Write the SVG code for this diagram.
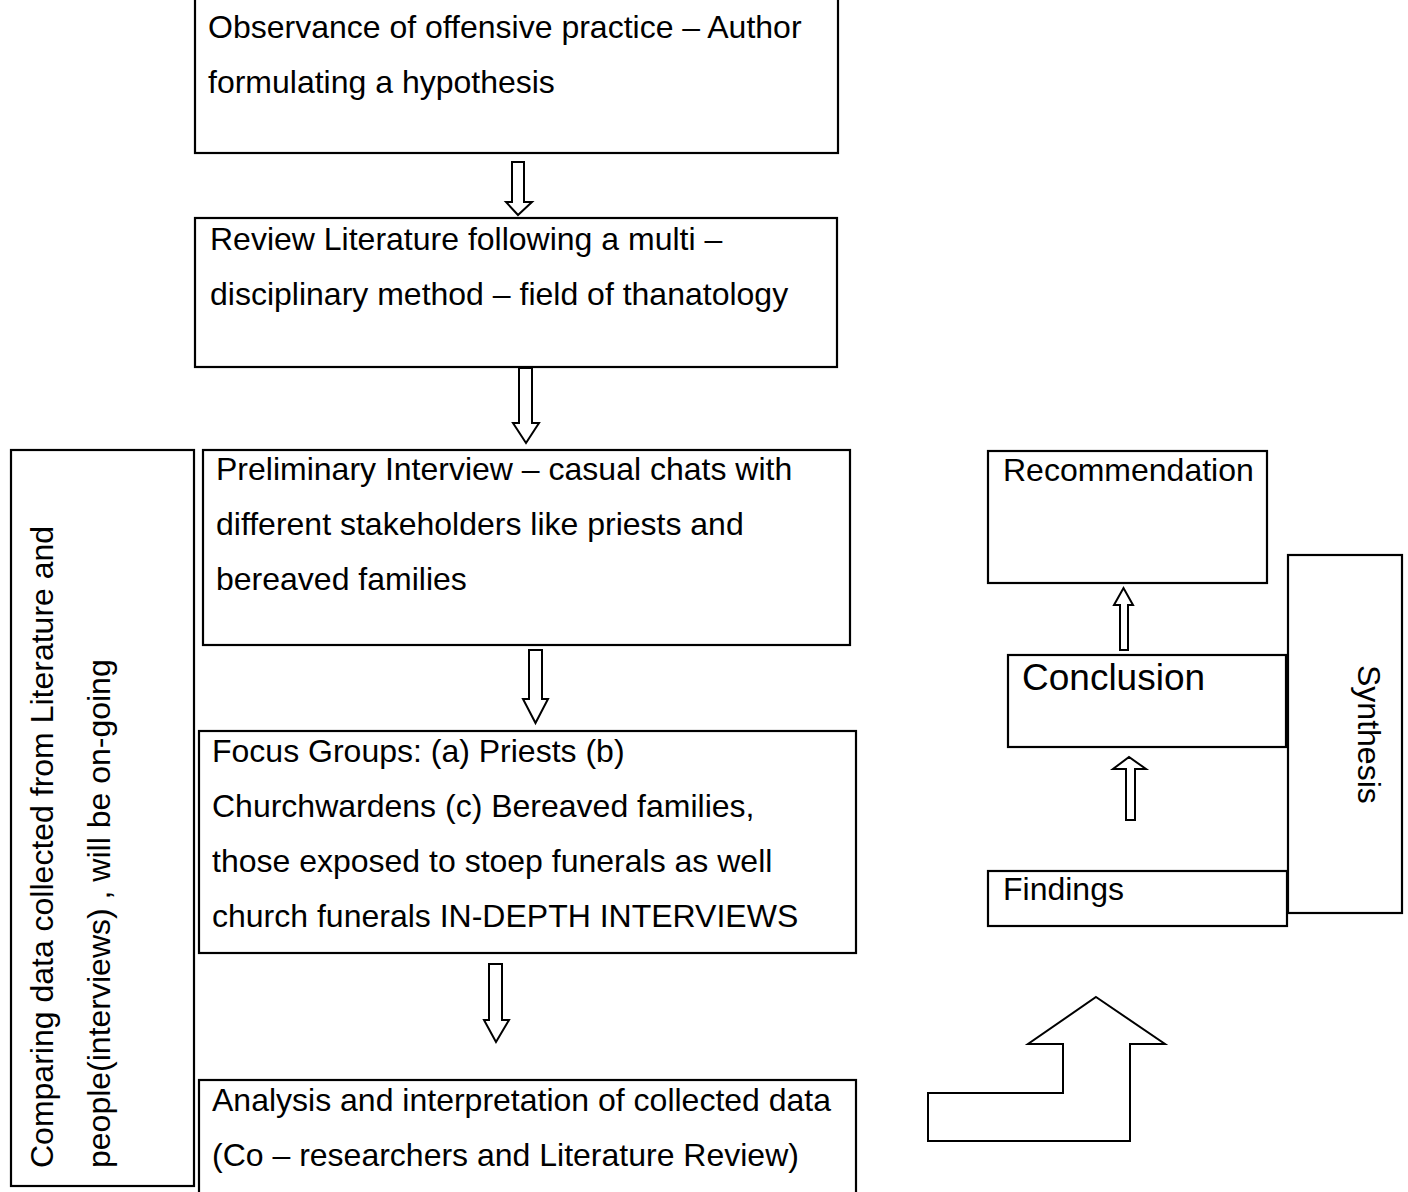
<svg xmlns="http://www.w3.org/2000/svg" width="1408" height="1192" viewBox="0 0 1408 1192">
<style>
.box{fill:#fff;stroke:#000;stroke-width:2.2}
.arr{fill:#fff;stroke:#000;stroke-width:2;stroke-linejoin:miter}
text{font-family:"Liberation Sans",Arial,sans-serif;font-size:32px;fill:#000}
.big{font-size:37px}
</style>
<rect width="1408" height="1192" fill="#fff"/>
<g id="connectors">
<polygon class="arr" points="512,162 524,162 524,202 532,202 518,215 506,202 512,202"/>
<polygon class="arr" points="519,368 532,368 532,423 539,423 526,443 513,423 519,423"/>
<polygon class="arr" points="529,650 542,650 542,699 548,699 535.5,723 523,699 529,699"/>
<polygon class="arr" points="489,964 502,964 502,1020 509,1020 496,1042 484,1020 489,1020"/>
<polygon class="arr" points="1120,650 1128,650 1128,605 1133,605 1123.5,588 1114,605 1120,605"/>
<polygon class="arr" points="1126,820 1135,820 1135,769 1146,769 1129,757 1113,769 1126,769"/>
<polygon class="arr" points="1096,997 1165,1044 1130,1044 1130,1141 928,1141 928,1093 1063,1093 1063,1044 1028,1044"/>
</g>
<g id="observance">
<rect class="box" x="195" y="-2" width="643" height="155"/>
<text x="208" y="38">Observance of offensive practice – Author</text>
<text x="208" y="93">formulating a hypothesis</text>
</g>
<g id="review">
<rect class="box" x="195" y="218" width="642" height="149"/>
<text x="210" y="250">Review Literature following a multi –</text>
<text x="210" y="305">disciplinary method – field of thanatology</text>
</g>
<g id="preliminary">
<rect class="box" x="203" y="450" width="647" height="195"/>
<text x="216" y="480">Preliminary Interview – casual chats with</text>
<text x="216" y="535">different stakeholders like priests and</text>
<text x="216" y="590">bereaved families</text>
</g>
<g id="focus">
<rect class="box" x="199" y="731" width="657" height="222"/>
<text x="212" y="762">Focus Groups: (a) Priests (b)</text>
<text x="212" y="817">Churchwardens (c) Bereaved families,</text>
<text x="212" y="872">those exposed to stoep funerals as well</text>
<text x="212" y="927">church funerals IN-DEPTH INTERVIEWS</text>
</g>
<g id="analysis">
<rect class="box" x="199" y="1080" width="657" height="122"/>
<text x="212" y="1111">Analysis and interpretation of collected data</text>
<text x="212" y="1166">(Co – researchers and Literature Review)</text>
</g>
<g id="comparing">
<rect class="box" x="11" y="450" width="183" height="736"/>
<text transform="translate(53,1168) rotate(-90)">Comparing data collected from Literature and</text>
<text transform="translate(110,1168) rotate(-90)">people(interviews) , will be on-going</text>
</g>
<g id="recommendation">
<rect class="box" x="988" y="451" width="279" height="132"/>
<text x="1003" y="481">Recommendation</text>
</g>
<g id="synthesis">
<rect class="box" x="1288" y="555" width="114" height="358"/>
<text transform="translate(1358,665) rotate(90)">Synthesis</text>
</g>
<g id="conclusion">
<rect class="box" x="1008" y="655" width="278" height="92"/>
<text class="big" x="1022" y="690">Conclusion</text>
</g>
<g id="findings">
<rect class="box" x="988" y="871" width="299" height="55"/>
<text x="1003" y="900">Findings</text>
</g>
</svg>
